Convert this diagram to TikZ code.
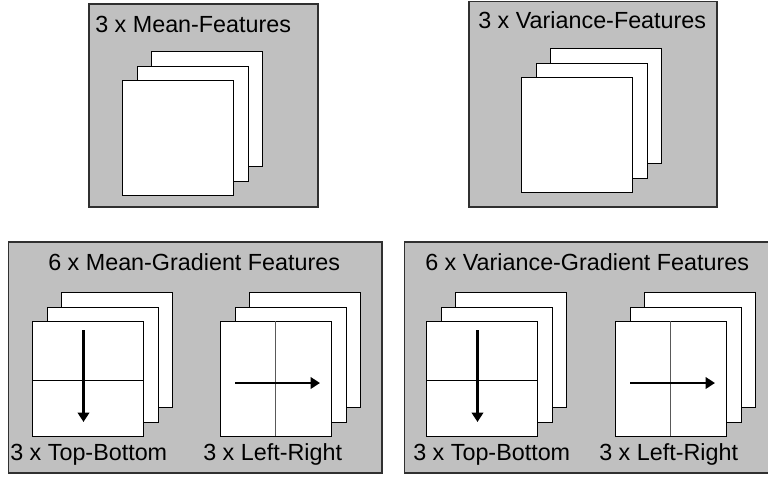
\documentclass[tikz,border=0pt]{standalone}
\usepackage{fontspec}
\setmainfont{Liberation Sans}
\usetikzlibrary{arrows.meta}
\definecolor{panelgray}{HTML}{C0C0C0}
\definecolor{edgegray}{HTML}{303030}
\begin{document}
\begin{tikzpicture}[x=0.75pt,y=-0.75pt,
  panel/.style={draw=edgegray, fill=panelgray, line width=0.8pt},
  sheet/.style={draw=black, fill=white, line width=0.75pt,
    minimum width=83.25pt, minimum height=86.25pt, inner sep=0pt, anchor=north west},
  caption/.style={anchor=base west, inner sep=0pt, font=\fontsize{17.5}{21}\selectfont},
  hsplit/.style={draw=black, line width=0.75pt},
  vsplit/.style={draw=black!65, line width=0.75pt},
  grad/.style={line width=2pt, -{Triangle[length=7pt,width=8.5pt]}},
  % three stacked feature maps, front sheet's top-left corner at the pic origin
  stack/.pic={
    \node[sheet] (-back) at (29,-29) {};
    \node[sheet] (-mid)  at (14.5,-14.5) {};
    \node[sheet] (-front) at (0,0) {};
  },
  % stack whose front sheet shows a top-to-bottom gradient
  tbstack/.pic={
    \node[sheet] (-back) at (29,-29) {};
    \node[sheet] (-mid)  at (14.5,-14.5) {};
    \node[sheet] (-front) at (0,0) {};
    \coordinate (-l) at (0,59);
    \coordinate (-r) at (111,59);
    \coordinate (-a) at (51.5,9);
    \coordinate (-b) at (51.5,101);
    \draw[hsplit] (-l) -- (-r);
    \draw[grad] (-a) -- (-b);
  },
  % stack whose front sheet shows a left-to-right gradient
  lrstack/.pic={
    \node[sheet] (-back) at (29,-29) {};
    \node[sheet] (-mid)  at (14.5,-14.5) {};
    \node[sheet] (-front) at (0,0) {};
    \coordinate (-t) at (55,0);
    \coordinate (-d) at (55,115);
    \coordinate (-a) at (15,62);
    \coordinate (-b) at (100,62);
    \draw[vsplit] (-t) -- (-d);
    \draw[grad] (-a) -- (-b);
  }
]
\useasboundingbox (0,0) rectangle (768,476);

% panels
\draw[panel] (89,4) rectangle (318,207);
\draw[panel] (469,1.5) rectangle (717,207);
\draw[panel] (8.5,242) rectangle (382,473);
\draw[panel] (404.5,242) rectangle (772,473);

% mean and variance features
\node[caption] (tmean) at (95,32) {3 x Mean-Features};
\pic (mean) at (122,80) {stack};
\node[caption] (tvar) at (478,28) {3 x Variance-Features};
\pic (var) at (521,77) {stack};

% mean-gradient features
\node[caption] (tmg) at (48,270) {6 x Mean-Gradient Features};
\pic (mgtb) at (32,321) {tbstack};
\pic (mglr) at (220,321) {lrstack};
\node[caption] (lmgtb) at (10,460) {3 x Top-Bottom};
\node[caption] (lmglr) at (203,460) {3 x Left-Right};

% variance-gradient features
\node[caption] (tvg) at (425,270) {6 x Variance-Gradient Features};
\pic (vgtb) at (426,321) {tbstack};
\pic (vglr) at (615,321) {lrstack};
\node[caption] (lvgtb) at (413,460) {3 x Top-Bottom};
\node[caption] (lvglr) at (599,460) {3 x Left-Right};
\end{tikzpicture}
\end{document}
